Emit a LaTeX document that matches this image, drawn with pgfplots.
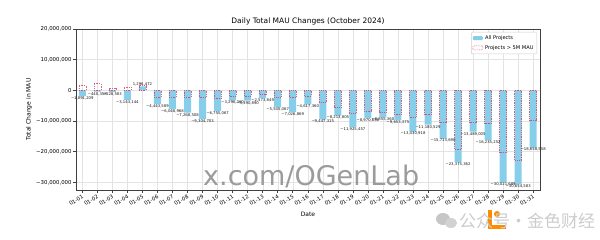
\documentclass[border=0pt]{standalone}
\usepackage{pgfplots}
\pgfplotsset{compat=1.18}
\usepackage{pgfplotstable}
\usepackage{fontspec}
\setmainfont{DejaVu Sans}
\newfontfamily\cjk{Noto Sans CJK SC}
\definecolor{skyb}{RGB}{135,206,235}
\definecolor{redd}{RGB}{214,60,90}
\definecolor{wm}{RGB}{155,155,155}
\pgfplotsset{mybox legend/.style={legend image code/.code={\path[##1] (0pt,-2pt) rectangle (10pt,2pt);}}}

\pgfplotstableread{
x y
0 -1891209
1 -440358
2 -528583
3 -3143144
4 1296472
5 -4443589
6 -6048968
7 -7268508
8 -9304703
9 -6755067
10 -3296360
11 -3390890
12 -2573849
13 -5545067
14 -7026869
15 -4617360
16 -9447315
17 -8213805
18 -11925457
19 -8970658
20 -8855360
21 -9653375
22 -13430918
23 -11180529
24 -15713690
25 -23375362
26 -13489005
27 -16235252
28 -30021689
29 -30654583
30 -18658558
}\allproj

\pgfplotstableread{
x y
0 1600000
1 2200000
2 800000
3 1000000
4 1500000
5 -2200000
6 -2200000
7 -2200000
8 -2400000
9 -2700000
10 -1800000
11 -1800000
12 -1300000
13 -2200000
14 -2400000
15 -1800000
16 -4000000
17 -5500000
18 -7500000
19 -6800000
20 -7200000
21 -7900000
22 -8700000
23 -7900000
24 -10300000
25 -19300000
26 -10300000
27 -10800000
28 -20300000
29 -22900000
30 -9700000
}\bigproj

\pgfplotstableread{
x y lab
0 -1891209 −1,891,209
1 -440358 −440,358
2 -528583 −528,583
3 -3143144 −3,143,144
5 -4443589 −4,443,589
6 -6048968 −6,048,968
7 -7268508 −7,268,508
8 -9304703 −9,304,703
9 -6755067 −6,755,067
10 -3296360 −3,296,360
11 -3390890 −3,390,890
12 -2573849 −2,573,849
13 -5545067 −5,545,067
14 -7026869 −7,026,869
15 -4617360 −4,617,360
16 -9447315 −9,447,315
17 -8213805 −8,213,805
18 -11925457 −11,925,457
19 -8970658 −8,970,658
20 -8855360 −8,855,360
21 -9653375 −9,653,375
22 -13430918 −13,430,918
23 -11180529 −11,180,529
24 -15713690 −15,713,690
25 -23375362 −23,375,362
26 -13489005 −13,489,005
27 -16235252 −16,235,252
28 -30021689 −30,021,689
29 -30654583 −30,654,583
30 -18658558 −18,658,558
}\neglab

\pgfplotstableread{
x y lab
4 1296472 1,296,472
}\poslab

\begin{document}
\begin{tikzpicture}[x=1pt,y=1pt]
\begin{axis}[
  at={(76pt,50pt)}, anchor=south west,
  scale only axis, width=464pt, height=161pt,
  xmin=-0.42, xmax=30.45, ymin=-32.5e6, ymax=20e6,
  scaled y ticks=false,
  xtick={0,...,30},
  xticklabels={01-01,01-02,01-03,01-04,01-05,01-06,01-07,01-08,01-09,01-10,01-11,01-12,01-13,01-14,01-15,01-16,01-17,01-18,01-19,01-20,01-21,01-22,01-23,01-24,01-25,01-26,01-27,01-28,01-29,01-30,01-31},
  x tick label style={rotate=30, anchor=north east, font=\fontsize{5.3}{6}\selectfont, inner sep=1pt},
  ytick={-30e6,-20e6,-10e6,0,10e6,20e6},
  yticklabels={{−30,000,000},{−20,000,000},{−10,000,000},{0},{10,000,000},{20,000,000}},
  y tick label style={font=\fontsize{5.4}{6}\selectfont, inner sep=1.2pt},
  tick align=outside, tick pos=left, major tick length=3pt,
  grid=major, major grid style={gray!22, line width=0.35pt},
  axis line style={black!75, line width=0.6pt},
  tick style={black!75, line width=0.5pt},
  legend style={at={(1,1)}, anchor=north east, xshift=-3pt, yshift=-3pt,
    font=\fontsize{5.1}{6}\selectfont, draw=gray!40, rounded corners=1pt,
    fill=white, inner sep=1.2pt, row sep=0.5pt},
  legend cell align=left,
]
\addplot[ybar, bar width=7pt, bar shift=0pt, fill=skyb, draw=none, mybox legend]
  table[x=x,y=y]{\allproj};
\addlegendentry{All Projects}
\addplot[ybar, bar width=7pt, bar shift=0pt, fill=none, draw=redd, draw opacity=0.8,
  dash pattern=on 1pt off 0.8pt, line width=0.55pt, mybox legend]
  table[x=x,y=y]{\bigproj};
\addlegendentry{Projects > 5M MAU}
\addplot[draw=none, mark=none, forget plot, nodes near coords, point meta=explicit symbolic,
  nodes near coords style={anchor=north, font=\fontsize{3.8}{4}\selectfont, inner sep=0.4pt, text=black!90}]
  table[x=x,y=y,meta=lab]{\neglab};
\addplot[draw=none, mark=none, forget plot, nodes near coords, point meta=explicit symbolic,
  nodes near coords style={anchor=south, font=\fontsize{3.8}{4}\selectfont, inner sep=0.6pt, text=black!90}]
  table[x=x,y=y,meta=lab]{\poslab};
\end{axis}
% titles and labels
\node[font=\fontsize{7.5}{8}\selectfont] at (308pt,219pt) {Daily Total MAU Changes (October 2024)};
\node[font=\fontsize{6}{7}\selectfont] at (308pt,26pt) {Date};
\node[font=\fontsize{6}{7}\selectfont, rotate=90] at (29pt,130.5pt) {Total Change in MAU};
% watermark
\node[font=\fontsize{27}{30}\selectfont, text=wm, anchor=base west, inner sep=0pt] at (203pt,54pt) {x.com/OGenLab};
% bottom-right watermark
\fill[gray!45] (443pt,21pt) ellipse (7pt and 6pt);
\fill[gray!35] (451pt,17pt) ellipse (6pt and 5pt);
\draw[orange!90!yellow, line width=3.5pt] (490pt,30pt) -- (490pt,13pt) -- (506pt,13pt);
\fill[orange!90!yellow] (497pt,26pt) circle (3pt);
\node[font=\cjk\fontsize{17}{18}\selectfont, text=gray!40, anchor=west, inner sep=0pt] at (459pt,19pt) {公众号·金色财经};
\pgfresetboundingbox
\path (0pt,0pt) rectangle (600pt,240pt);
\end{tikzpicture}
\end{document}
